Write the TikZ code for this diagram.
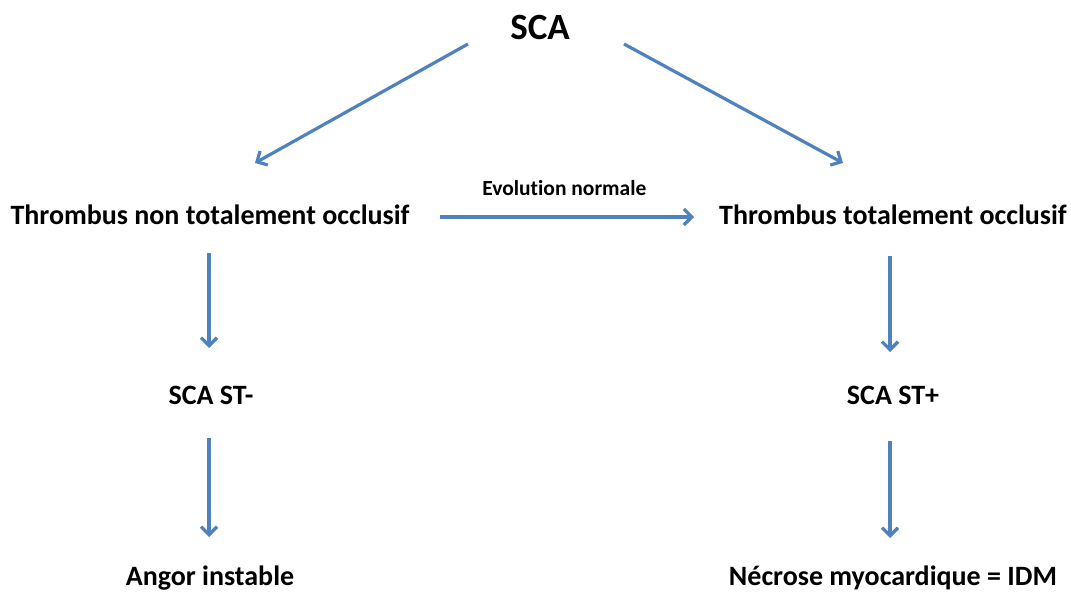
\documentclass[tikz,border=0pt]{standalone}
\usepackage{fontspec}
\setmainfont{Carlito}[Ligatures=NoCommon]
\usetikzlibrary{arrows.meta}
\definecolor{flowblue}{HTML}{4F81BD}
\tikzset{
  lbl/.style={font=\bfseries\fontsize{28}{30}\selectfont, inner sep=0pt, text=black},
  biglbl/.style={font=\bfseries\fontsize{37}{40}\selectfont, inner sep=0pt, text=black},
  smalllbl/.style={font=\bfseries\fontsize{21.5}{23}\selectfont, inner sep=0pt, text=black},
  arr/.style={draw=flowblue, line width=3.2pt,
    -{Straight Barb[length=8pt,width=16pt,line width=3.2pt]}}
}
\begin{document}
\begin{tikzpicture}[x=1pt,y=-1pt]
  \useasboundingbox (0,0) rectangle (1071,593);

  % labels
  \node[biglbl] (sca) at (540,27) {SCA};
  \node[lbl] (thl) at (210,215) {Thrombus non totalement occlusif};
  \node[lbl] (thr) at (893,215) {Thrombus totalement occlusif};
  \node[lbl] (stm) at (211,395) {SCA ST-};
  \node[lbl] (stp) at (893,395) {SCA ST+};
  \node[lbl] (ang) at (210,578) {Angor instable};
  \node[lbl] (nec) at (893,578) {Nécrose myocardique = IDM};

  % branches from SCA
  \draw[arr] ([shift={(-72,17)}]sca.center) -- ([shift={(45,-52)}]thl.center);
  \draw[arr] ([shift={(84,17)}]sca.center) -- ([shift={(-50,-52)}]thr.center);

  % transition between the two thrombus states
  \draw[arr, shorten <=30pt, shorten >=25pt] ([yshift=-2pt]thl.east) -- ([yshift=-2pt]thr.west)
    node[smalllbl, midway, above=20pt] (evo) {Evolution normale};

  % left column
  \draw[arr, shorten <=38pt, shorten >=47pt] ([xshift=-1pt]thl.center) -- ([xshift=-1pt]thl.center |- stm.center);
  \draw[arr, shorten <=43pt, shorten >=41pt] ([xshift=-1pt]thl.center |- stm.center) -- ([xshift=-1pt]ang.center);

  % right column
  \draw[arr, shorten <=41pt, shorten >=43pt] ([xshift=-3pt]thr.center) -- ([xshift=-3pt]stp.center);
  \draw[arr, shorten <=46pt, shorten >=40pt] ([xshift=-3pt]stp.center) -- ([xshift=-3pt]nec.center);
\end{tikzpicture}
\end{document}
